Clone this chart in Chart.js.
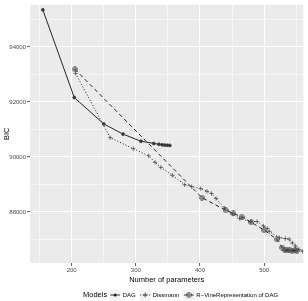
<!DOCTYPE html>
<html>
<head>
<meta charset="utf-8">
<script src="https://cdn.jsdelivr.net/npm/chart.js@4"></script>
<style>
  body { margin: 0; background: #fff; }
  canvas { display: block; }
</style>
</head>
<body>
<canvas id="bicChart" width="308" height="301"></canvas>
<script>
// Series (number of parameters vs BIC)
const dagParams = [155, 204, 250, 280, 308, 328, 336, 341, 345, 349, 353];
const dagBIC = [95350, 92160, 91200, 90830, 90570, 90490, 90460, 90440, 90430, 90425, 90420];

const dissmannParams = [206, 260, 296, 320, 330, 339, 357, 376, 387, 401, 411, 418, 425, 438, 451, 462, 479, 489, 499, 505, 508, 524, 533, 539, 544, 549, 554, 560];
const dissmannBIC = [93040, 90700, 90300, 90040, 89800, 89620, 89330, 88990, 88920, 88850, 88750, 88670, 88490, 88140, 87920, 87760, 87650, 87650, 87490, 87400, 87290, 87060, 87030, 87010, 86870, 86760, 86640, 86570];

const rvineParams = [205, 403, 440, 452, 465, 480, 500, 520, 528, 532, 536, 540, 544, 548, 551];
const rvineBIC = [93190, 88520, 88060, 87950, 87820, 87620, 87340, 87000, 86700, 86610, 86600, 86605, 86595, 86600, 86590];

const modelNames = ['DAG', 'Dissmann', 'R\u2212VineRepresentation of DAG'];

// Axis ticks
const xMajorTicks = [200, 300, 400, 500];
const xMinorTicks = [150, 250, 350, 450, 550];
const yMajorTicks = [88000, 90000, 92000, 94000];
const yMinorTicks = [87000, 89000, 91000, 93000, 95000];

const FONT = '"Liberation Sans", Arial, sans-serif';

function toPoints(xs, ys) {
    return xs.map((x, i) => ({ x: x, y: ys[i] }));
}

// circle with a cross inside (R pch 10)
function circlePlus(size) {
    const c = document.createElement('canvas');
    c.width = size; c.height = size;
    const g = c.getContext('2d');
    const m = size / 2, r = size / 2 - 0.6;
    g.strokeStyle = '#333';
    g.lineWidth = 0.7;
    g.beginPath();
    g.arc(m, m, r, 0, Math.PI * 2);
    g.moveTo(m - r, m); g.lineTo(m + r, m);
    g.moveTo(m, m - r); g.lineTo(m, m + r);
    g.stroke();
    return c;
}
const rvineMarker = circlePlus(6);

const seriesStyle = [
    { dash: [], point: 'circle', radius: 1.5, fill: '#333' },
    { dash: [1, 2], point: 'cross', radius: 2.2, fill: '#333' },
    { dash: [4, 3], point: rvineMarker, radius: 3, fill: '#333' }
];

function setTicks(major, minor) {
    return function(scale) {
        scale.ticks = major.concat(minor).sort((a, b) => a - b).map(v => ({ value: v }));
    };
}

function gridWidth(major) {
    return ctx => (ctx.tick && major.includes(ctx.tick.value)) ? 1.1 : 0.5;
}

function tickColor(major) {
    return ctx => (ctx.tick && major.includes(ctx.tick.value)) ? '#333333' : 'rgba(0,0,0,0)';
}

// gray panel background
const panelBg = {
    id: 'panelBg',
    beforeDraw(chart) {
        const { ctx, chartArea: a } = chart;
        ctx.save();
        ctx.fillStyle = '#fff';
        ctx.fillRect(0, 0, chart.width, chart.height);
        ctx.fillStyle = '#EBEBEB';
        ctx.fillRect(a.left, a.top, a.right - a.left, a.bottom - a.top);
        ctx.restore();
    }
};

// ggplot-like bottom legend
const ggLegend = {
    id: 'ggLegend',
    afterDraw(chart) {
        const ctx = chart.ctx;
        const y = 295;
        let x = 83;
        ctx.save();
        ctx.textBaseline = 'middle';
        ctx.fillStyle = '#000';
        ctx.font = '7.5px ' + FONT;
        ctx.fillText('Models', x, y);
        x += ctx.measureText('Models').width + 2.5;
        ctx.font = '6px ' + FONT;
        modelNames.forEach((name, i) => {
            const st = seriesStyle[i];
            const k = 11;
            ctx.fillStyle = '#F2F2F2';
            ctx.fillRect(x, y - k / 2, k, k);
            ctx.strokeStyle = '#222';
            ctx.lineWidth = 0.9;
            ctx.setLineDash(st.dash);
            ctx.beginPath();
            ctx.moveTo(x + 0.5, y);
            ctx.lineTo(x + k - 0.5, y);
            ctx.stroke();
            ctx.setLineDash([]);
            const cx = x + k / 2;
            if (i === 0) {
                ctx.fillStyle = '#222';
                ctx.beginPath();
                ctx.arc(cx, y, 1.6, 0, Math.PI * 2);
                ctx.fill();
            } else if (i === 1) {
                ctx.lineWidth = 0.8;
                ctx.beginPath();
                ctx.moveTo(cx - 2.3, y); ctx.lineTo(cx + 2.3, y);
                ctx.moveTo(cx, y - 2.3); ctx.lineTo(cx, y + 2.3);
                ctx.stroke();
            } else {
                ctx.drawImage(rvineMarker, cx - 3, y - 3);
            }
            x += k + 2;
            ctx.fillStyle = '#000';
            ctx.fillText(name, x, y);
            x += ctx.measureText(name).width + 4;
        });
        ctx.restore();
    }
};

const datasets = [
    toPoints(dagParams, dagBIC),
    toPoints(dissmannParams, dissmannBIC),
    toPoints(rvineParams, rvineBIC)
].map((data, i) => ({
    label: modelNames[i],
    data: data,
    showLine: true,
    borderColor: '#262626',
    borderWidth: 1,
    borderDash: seriesStyle[i].dash,
    pointStyle: seriesStyle[i].point,
    pointRadius: seriesStyle[i].radius,
    pointBorderWidth: 0.7,
    pointBorderColor: '#444',
    pointBackgroundColor: seriesStyle[i].fill,
    tension: 0
}));

const chart = new Chart(document.getElementById('bicChart').getContext('2d'), {
    type: 'scatter',
    data: { datasets: datasets },
    plugins: [panelBg, ggLegend],
    options: {
        responsive: false,
        animation: false,
        devicePixelRatio: 1,
        layout: { padding: { top: 0, right: 3, bottom: 16, left: 0 } },
        plugins: {
            legend: { display: false },
            tooltip: { enabled: false }
        },
        scales: {
            x: {
                type: 'linear',
                min: 135,
                max: 561,
                afterBuildTicks: setTicks(xMajorTicks, xMinorTicks),
                afterFit: s => { s.height = 22; },
                border: { display: false },
                grid: {
                    color: '#FFFFFF',
                    lineWidth: gridWidth(xMajorTicks),
                    tickColor: tickColor(xMajorTicks),
                    tickLength: 3,
                    tickWidth: 0.8
                },
                ticks: {
                    padding: 1,
                    maxRotation: 0,
                    autoSkip: false,
                    color: '#4D4D4D',
                    font: { family: FONT, size: 6 },
                    callback: v => xMajorTicks.includes(v) ? String(v) : ''
                },
                title: {
                    display: true,
                    text: 'Number of parameters',
                    color: '#000',
                    font: { family: FONT, size: 7.5 },
                    padding: { top: 0, bottom: 1 }
                }
            },
            y: {
                type: 'linear',
                min: 86143,
                max: 95536,
                afterBuildTicks: setTicks(yMajorTicks, yMinorTicks),
                afterFit: s => { s.width = 30; },
                border: { display: false },
                grid: {
                    color: '#FFFFFF',
                    lineWidth: gridWidth(yMajorTicks),
                    tickColor: tickColor(yMajorTicks),
                    tickLength: 3,
                    tickWidth: 0.8
                },
                ticks: {
                    padding: 1,
                    autoSkip: false,
                    color: '#4D4D4D',
                    font: { family: FONT, size: 6 },
                    callback: v => yMajorTicks.includes(v) ? String(v) : ''
                },
                title: {
                    display: true,
                    text: 'BIC',
                    color: '#000',
                    font: { family: FONT, size: 7.5 },
                    padding: { top: 2, bottom: 0 }
                }
            }
        }
    }
});
</script>
</body>
</html>
